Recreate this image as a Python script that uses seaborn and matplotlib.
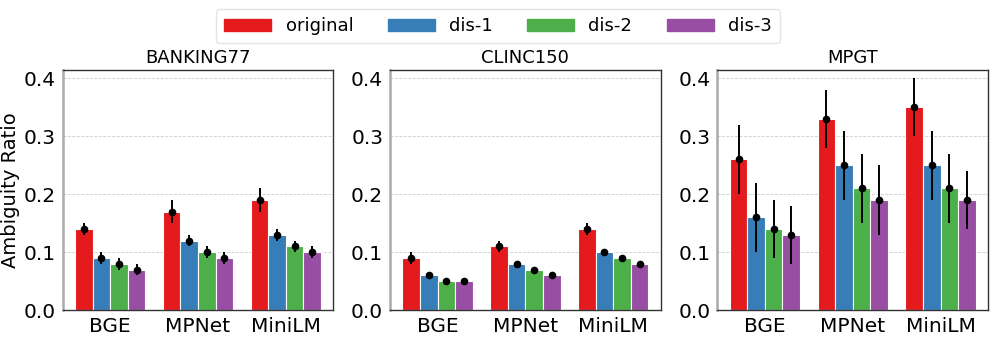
import numpy as np
import pandas as pd
import matplotlib
matplotlib.use("Agg")
import matplotlib.pyplot as plt
import seaborn as sns

datasets = ["BANKING77", "CLINC150", "MPGT"]
models = ["BGE", "MPNet", "MiniLM"]
variants = ["original", "dis-1", "dis-2", "dis-3"]

# values[dataset][model] -> per variant
banking_vals = [[0.14, 0.09, 0.08, 0.07], [0.17, 0.12, 0.10, 0.09], [0.19, 0.13, 0.11, 0.10]]
banking_err = [[0.01, 0.01, 0.01, 0.01], [0.02, 0.01, 0.01, 0.01], [0.02, 0.01, 0.01, 0.01]]
clinc_vals = [[0.09, 0.06, 0.05, 0.05], [0.11, 0.08, 0.07, 0.06], [0.14, 0.10, 0.09, 0.08]]
clinc_err = [[0.01, 0.002, 0.002, 0.002], [0.01, 0.003, 0.002, 0.002], [0.01, 0.002, 0.002, 0.002]]
mpgt_vals = [[0.26, 0.16, 0.14, 0.13], [0.33, 0.25, 0.21, 0.19], [0.35, 0.25, 0.21, 0.19]]
mpgt_err = [[0.06, 0.06, 0.05, 0.05], [0.05, 0.06, 0.06, 0.06], [0.05, 0.06, 0.06, 0.05]]

all_vals = [banking_vals, clinc_vals, mpgt_vals]
all_errs = [banking_err, clinc_err, mpgt_err]

rows = []
for d, vals, errs in zip(datasets, all_vals, all_errs):
    for mi, m in enumerate(models):
        for vi, v in enumerate(variants):
            rows.append(dict(dataset=d, model=m, variant=v, value=vals[mi][vi], err=errs[mi][vi]))
df = pd.DataFrame(rows)

sns.set_style("white")
plt.rcParams["font.family"] = ["DejaVu Sans"]
for k in ["text.color", "axes.labelcolor", "xtick.color", "ytick.color"]:
    plt.rcParams[k] = "black"
palette = sns.color_palette("Set1", 4)

fig, axes = plt.subplots(1, 3, figsize=(9.96, 3.4), dpi=100)
fig.subplots_adjust(left=0.063, right=0.992, bottom=0.088, top=0.795, wspace=0.21)

for ax, d in zip(axes, datasets):
    sub = df[df.dataset == d]
    sns.barplot(data=sub, x="model", y="value", hue="variant", order=models,
                hue_order=variants, palette=palette, errorbar=None, ax=ax,
                width=0.8, saturation=1, edgecolor="white", linewidth=0.8, legend=False)
    for vi, (cont, v) in enumerate(zip(ax.containers, variants)):
        s = sub[sub.variant == v].set_index("model").loc[models]
        xs = [p.get_x() + p.get_width() / 2 for p in cont.patches]
        ax.errorbar(xs, s["value"].values, yerr=s["err"].values, fmt="o",
                    color="black", ms=4.5, elinewidth=1.4, capsize=0, zorder=5)
    ax.set_ylim(0, 0.415)
    ax.set_yticks([0.0, 0.1, 0.2, 0.3, 0.4])
    ax.set_yticklabels(["0.0", "0.1", "0.2", "0.3", "0.4"])
    ax.yaxis.grid(True, linestyle="--", color="#cccccc", linewidth=0.6)
    ax.set_axisbelow(True)
    ax.set_title(d, fontsize=13, pad=5)
    ax.set_xlabel("")
    ax.set_ylabel("")
    ax.tick_params(axis="both", labelsize=14.5, length=3, pad=2)
    for sp in ax.spines.values():
        sp.set_color("#333333")
        sp.set_linewidth(1.0)
    ax.spines["left"].set_color("#aaaaaa")
    ax.spines["left"].set_linewidth(1.8)

axes[0].set_ylabel("Ambiguity Ratio", fontsize=14, labelpad=3)

handles = [plt.Rectangle((0, 0), 1, 1, color=c) for c in palette]
fig.legend(handles, variants, loc="upper center", ncol=4, fontsize=13,
           bbox_to_anchor=(0.5, 1.0), frameon=True, handlelength=2.6,
           columnspacing=1.9, borderpad=0.45, fancybox=True, edgecolor="#dddddd")

fig.savefig("out.png", dpi=100)
